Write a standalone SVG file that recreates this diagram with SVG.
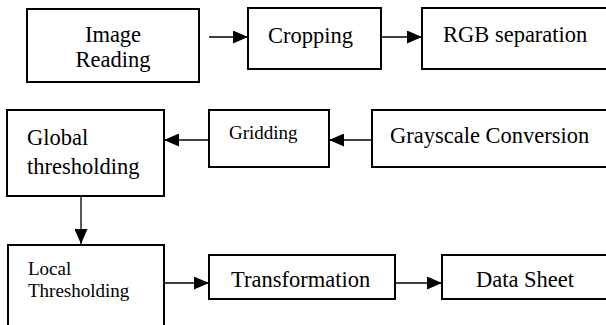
<svg xmlns="http://www.w3.org/2000/svg" width="606" height="325" viewBox="0 0 606 325">
<defs>
<marker id="ah" markerWidth="15" markerHeight="13" refX="15" refY="6.5" orient="auto" markerUnits="userSpaceOnUse">
<path d="M0,0 L15,6.5 L0,13 Z" fill="#000"/>
</marker>
<style>
.box{fill:#fff;stroke:#000;stroke-width:2}
.t{font-family:"Liberation Serif","Times New Roman",serif;font-size:22.5px;fill:#000}
.s{font-family:"Liberation Serif","Times New Roman",serif;font-size:19px;fill:#000}
.c{stroke:#000;stroke-width:1.3;fill:none;marker-end:url(#ah)}
</style>
</defs>
<rect width="606" height="325" fill="#fff"/>
<g id="image-reading">
<rect class="box" x="27" y="9" width="172" height="73"/>
<text class="t" x="113" y="42" text-anchor="middle">Image</text>
<text class="t" x="113" y="67" text-anchor="middle">Reading</text>
</g>
<g id="cropping">
<rect class="box" x="248" y="8" width="133" height="61"/>
<text class="t" x="268" y="43">Cropping</text>
</g>
<g id="rgb-separation">
<rect class="box" x="422" y="8" width="200" height="61"/>
<text class="t" x="443" y="42">RGB separation</text>
</g>
<g id="global-thresholding">
<rect class="box" x="7" y="110" width="157" height="86"/>
<text class="t" x="27" y="145">Global</text>
<text class="t" x="27" y="174">thresholding</text>
</g>
<g id="gridding">
<rect class="box" x="209" y="110" width="120" height="57"/>
<text class="s" x="229" y="139">Gridding</text>
</g>
<g id="grayscale-conversion">
<rect class="box" x="372" y="110" width="250" height="57"/>
<text class="t" x="390" y="143">Grayscale Conversion</text>
</g>
<g id="local-thresholding">
<rect class="box" x="8" y="245" width="156" height="95"/>
<text class="s" x="28" y="275">Local</text>
<text class="s" x="28" y="297">Thresholding</text>
</g>
<g id="transformation">
<rect class="box" x="209" y="255" width="186" height="44"/>
<text class="t" x="231" y="287">Transformation</text>
</g>
<g id="data-sheet">
<rect class="box" x="442" y="255" width="180" height="44"/>
<text class="t" x="476" y="287">Data Sheet</text>
</g>
<g id="connectors">
<line class="c" x1="209" y1="37" x2="248" y2="37"/>
<line class="c" x1="381" y1="37" x2="422" y2="37"/>
<line class="c" x1="372" y1="140" x2="329" y2="140"/>
<line class="c" x1="209" y1="140" x2="164" y2="140"/>
<line class="c" x1="81" y1="196" x2="81" y2="244"/>
<line class="c" x1="164" y1="283" x2="209" y2="283"/>
<line class="c" x1="395" y1="283" x2="442" y2="283"/>
</g>
</svg>
